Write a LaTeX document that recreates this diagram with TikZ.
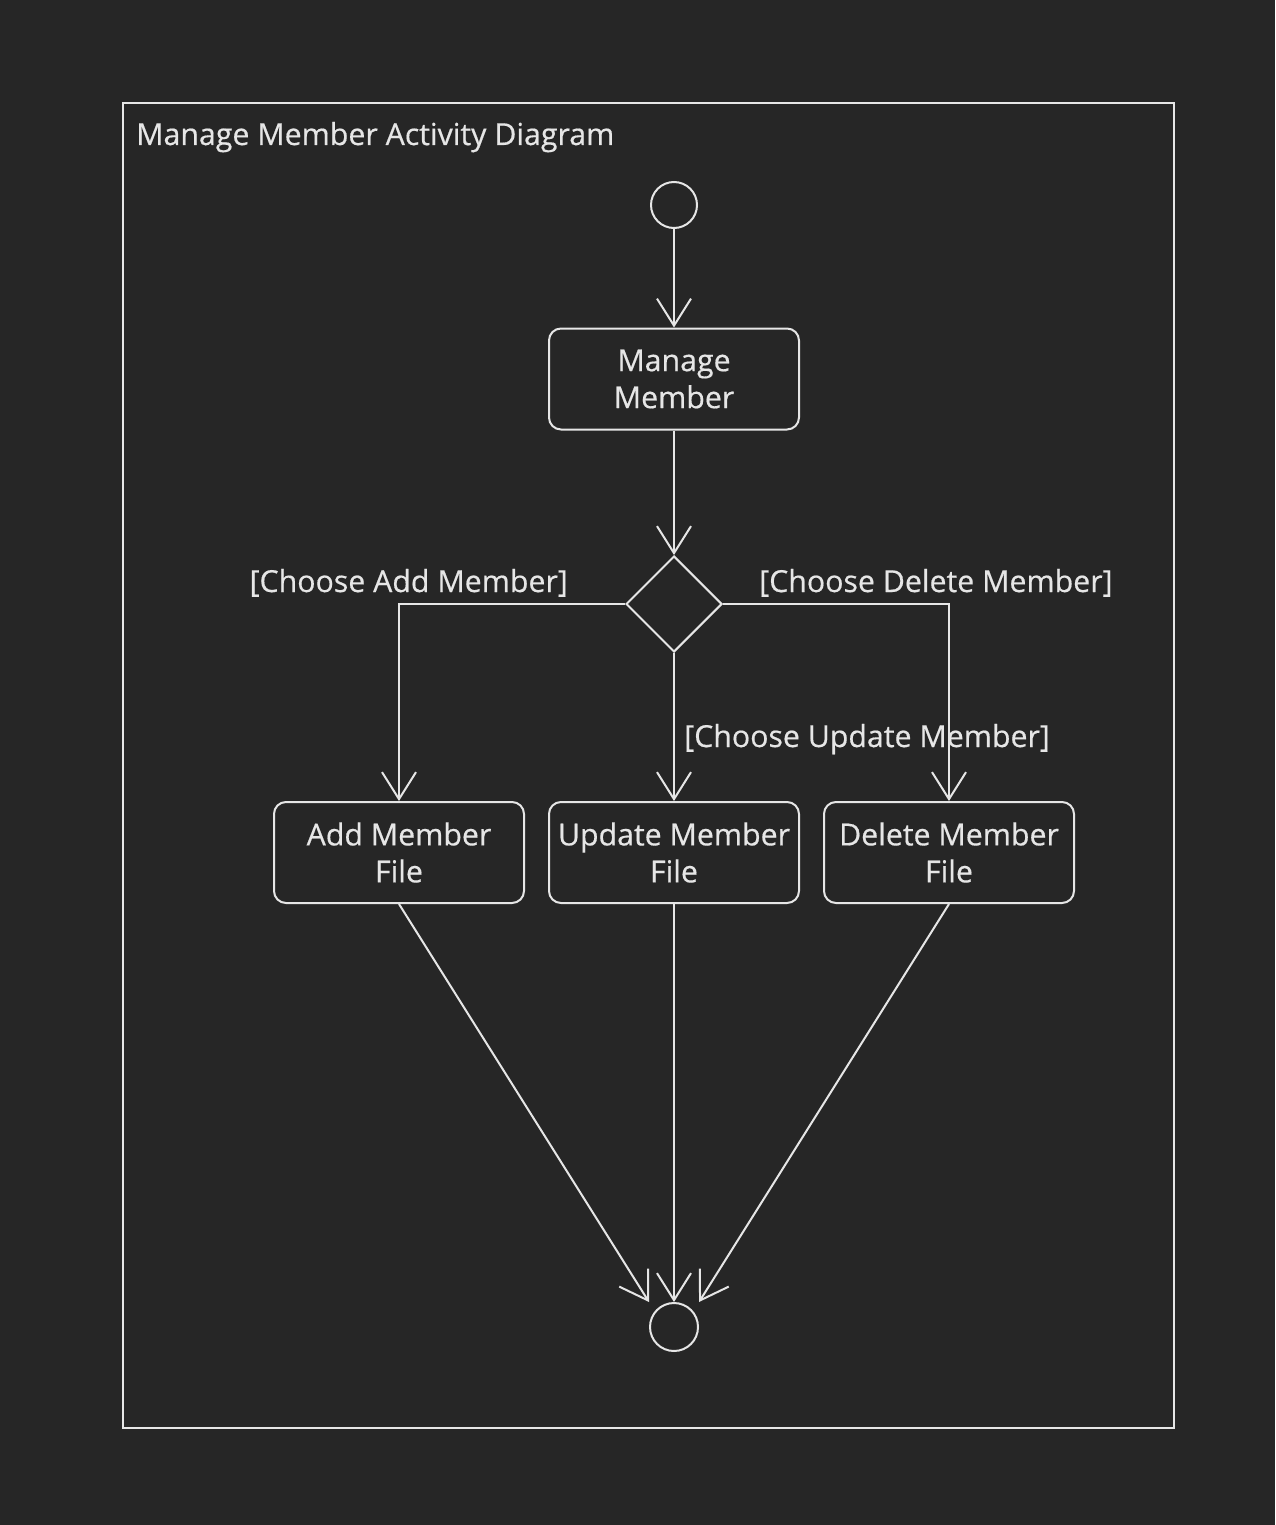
\documentclass[tikz,border=0pt]{standalone}
\usepackage{fontspec}
\setmainfont{Open Sans}[UprightFeatures={FakeBold=0.5}]
\usetikzlibrary{shapes.geometric,arrows.meta}
\definecolor{bgc}{HTML}{262626}
\definecolor{fg}{HTML}{E6E6E6}
\begin{document}
\begin{tikzpicture}[x=1pt,y=-1pt,
  every node/.style={font=\fontsize{30.3}{37}\selectfont, text=fg},
  ln/.style={draw=fg, line width=2pt},
  act/.style={ln, rectangle, rounded corners=12pt, minimum width=250pt, minimum height=101pt, align=center, inner sep=0pt},
  startnode/.style={ln, circle, minimum size=46pt, inner sep=0pt},
  endnode/.style={ln, circle, minimum size=48pt, inner sep=0pt},
  dec/.style={ln, diamond, minimum width=96pt, minimum height=96pt, inner sep=0pt},
  flow/.style={draw=fg, line width=2pt, -{Straight Barb[length=27pt,width=34pt,line width=2pt]}},
  guard/.style={inner sep=0pt}
]
\fill[bgc] (0,0) rectangle (1275,1525);
\useasboundingbox (0,0) rectangle (1275,1525);
\node[ln, rectangle, minimum width=1051pt, minimum height=1325pt, inner sep=0pt] (frame) at (648.5,765.5) {};
\node[anchor=base west, inner sep=0pt] (title) at (136,145) {Manage Member Activity Diagram};

\node[startnode] (init) at (674,205) {};
\node[act] (mm) at (674,379) {Manage\\Member};
\node[dec] (d) at (674,604) {};
\node[act] (add) at (399,852.5) {Add Member\\File};
\node[act] (upd) at (674,852.5) {Update Member\\File};
\node[act] (del) at (949,852.5) {Delete Member\\File};
\node[endnode] (fin) at (674,1327) {};

\draw[flow] (init) -- (mm);
\draw[flow] (mm) -- (d);
\draw[flow] (d.west) -| (add.north);
\draw[flow] (d.south) -- (upd.north);
\draw[flow] (d.east) -| (del.north);
\draw[flow] (add.south) -- (fin.north -| fin.west);
\draw[flow] (upd.south) -- (fin.north);
\draw[flow] (del.south) -- (fin.north -| fin.east);

\node[guard, anchor=base east] (g1) at (568,592) {[Choose Add Member]};
\node[guard, anchor=base west] (g2) at (759,592) {[Choose Delete Member]};
\node[guard, anchor=base west] (g3) at (684,747) {[Choose Update Member]};
\end{tikzpicture}
\end{document}
